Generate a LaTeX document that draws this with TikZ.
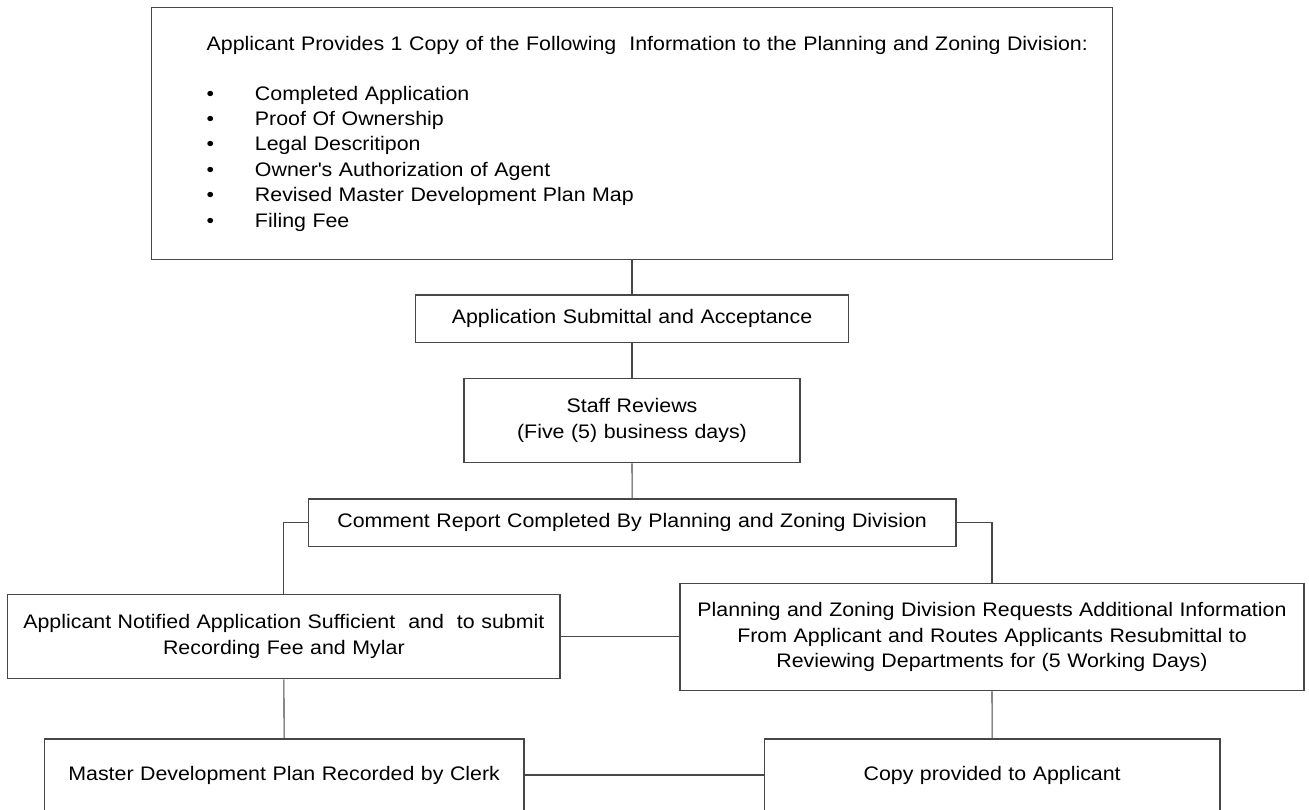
\documentclass[tikz,border=0pt]{standalone}
\usepackage{fontspec}
\setmainfont[FakeStretch=1.09]{Liberation Sans}
\begin{document}
\begin{tikzpicture}[x=1pt,y=-1pt,
  box/.style={draw=black!72, line width=1.1pt, fill=white, inner xsep=2pt, inner ysep=0pt,
    align=center, font=\fontsize{19.6}{25.6}\selectfont},
  link/.style={draw=black!72, line width=1.1pt}]
\useasboundingbox (0,0) rectangle (1309,809);

\node[box, minimum width=961pt, minimum height=252pt, text width=961pt, inner xsep=0pt, align=left,
  font=\fontsize{19.6}{25.4}\selectfont]
  (req) at (632,133.6) {\hspace*{55.2pt}Applicant Provides 1 Copy of the Following\ \ Information to the Planning and Zoning Division:\\[24.6pt]
  \hspace*{55.2pt}\makebox[48.3pt][l]{•}Completed Application\\
  \hspace*{55.2pt}\makebox[48.3pt][l]{•}Proof Of Ownership\\
  \hspace*{55.2pt}\makebox[48.3pt][l]{•}Legal Descritipon\\
  \hspace*{55.2pt}\makebox[48.3pt][l]{•}Owner\textquotesingle s Authorization of Agent\\
  \hspace*{55.2pt}\makebox[48.3pt][l]{•}Revised Master Development Plan Map\\
  \hspace*{55.2pt}\makebox[48.3pt][l]{•}Filing Fee};

\node[box, minimum width=432.6pt, minimum height=47.7pt, text width=428pt] (sub) at (632,318.85)
  {Application Submittal and Acceptance};
\node[box, minimum width=336pt, minimum height=84pt, text width=332pt] (staff) at (632,420.7)
  {Staff Reviews\\(Five (5) business days)};
\node[box, minimum width=647.7pt, minimum height=47.7pt, text width=643pt] (cmt) at (632.15,522.85)
  {Comment Report Completed By Planning and Zoning Division};
\node[box, minimum width=552.3pt, minimum height=84pt, text width=548pt] (ok) at (283.85,636.7)
  {Applicant Notified Application Sufficient\ \ and\ \ to submit\\Recording Fee and Mylar};
\node[box, minimum width=624pt, minimum height=107.4pt, text width=620pt] (more) at (992,637)
  {Planning and Zoning Division Requests Additional Information\\From Applicant and Routes Applicants Resubmittal to\\Reviewing Departments for (5 Working Days)};
\node[box, minimum width=479.7pt, minimum height=72pt, text width=475pt] (rec) at (284.15,775)
  {Master Development Plan Recorded by Clerk};
\node[box, minimum width=455.7pt, minimum height=72pt, text width=451pt] (copy) at (992.15,775)
  {Copy provided to Applicant};

\draw[link] (req.south) -- (sub.north);
\draw[link] (sub.south) -- (staff.north);
\draw[link] (staff.south) -- (cmt.north);
\draw[link] (cmt.west) -| (ok.north);
\draw[link] (cmt.east) -| (more.north);
\draw[link] (ok.east) -- (ok.east -| more.west);
\draw[link] (ok.south) -- (rec.north);
\draw[link] (more.south) -- (copy.north);
\draw[link] (rec.east) -- (copy.west);
\end{tikzpicture}
\end{document}
